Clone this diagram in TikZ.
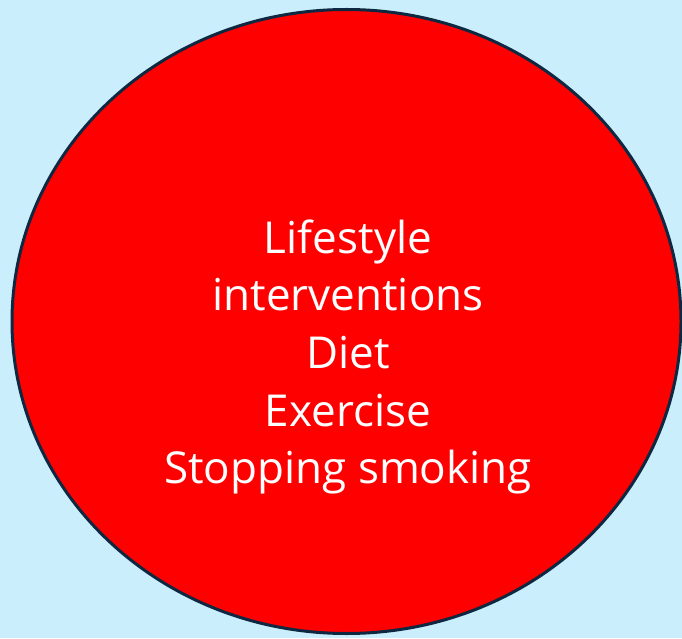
\documentclass[tikz,border=0pt]{standalone}
\usepackage{fontspec}
\setmainfont{Open Sans}
\definecolor{bgblue}{HTML}{CAEEFB}
\definecolor{rimnavy}{HTML}{0E2841}
\definecolor{fillred}{HTML}{FF0000}
\begin{document}
\begin{tikzpicture}[x=1pt,y=1pt,
  blob/.style={draw=rimnavy,fill=fillred,line width=3pt},
  label/.style={text=white,align=center,font=\fontsize{44}{57.7}\selectfont,inner sep=0pt}]
\fill[bgblue] (0,0) rectangle (682,638);
\useasboundingbox (0,0) rectangle (682,638);
\draw[blob] (346.5,316.5) ellipse [x radius=334.5,y radius=312];
\node[label] (txt) at (348,281) {Lifestyle\\interventions\\Diet\\Exercise\\Stopping smoking};
\end{tikzpicture}
\end{document}
